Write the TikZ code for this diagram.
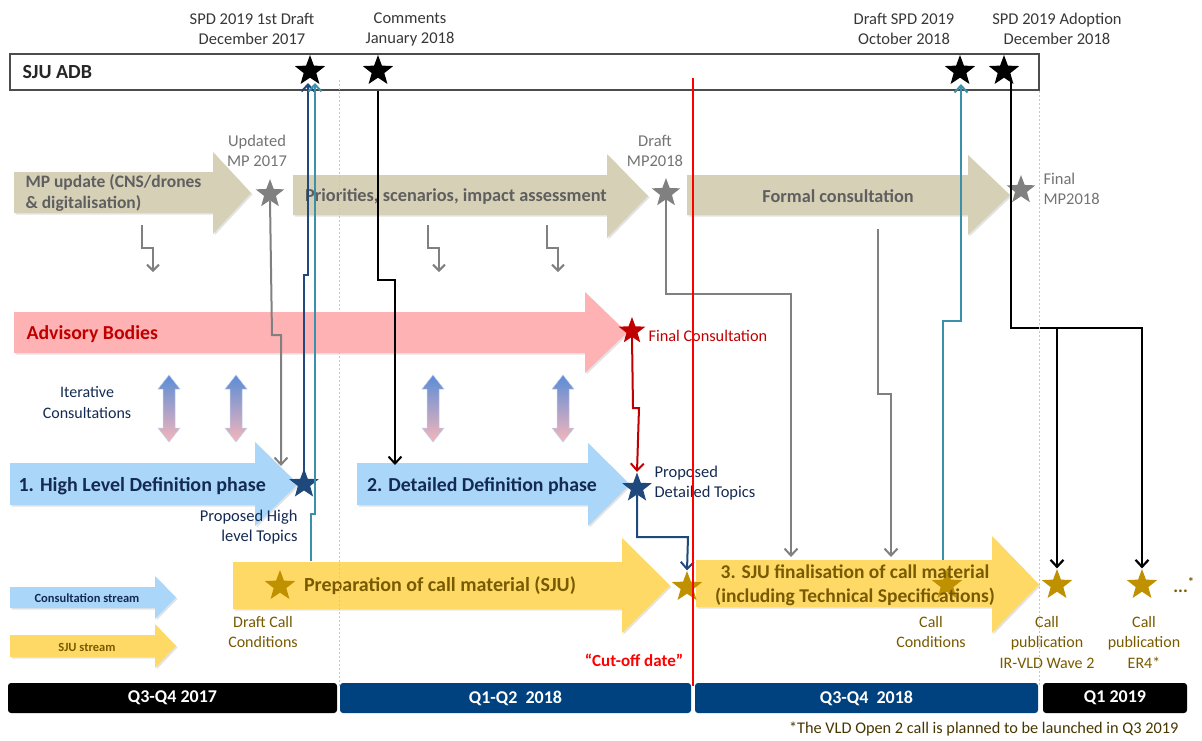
\documentclass[tikz,border=0pt]{standalone}
\usepackage{fontspec}
\setmainfont{Carlito}
\usetikzlibrary{shapes.geometric,arrows.meta,shadows}

\definecolor{beige}{RGB}{214,208,183}
\definecolor{beigetxt}{RGB}{95,95,95}
\definecolor{pinkfill}{RGB}{255,178,180}
\definecolor{darkred}{RGB}{192,0,0}
\definecolor{lblue}{RGB}{170,214,250}
\definecolor{navytxt}{RGB}{20,42,82}
\definecolor{navystar}{RGB}{31,73,125}
\definecolor{yel}{RGB}{255,217,102}
\definecolor{browntxt}{RGB}{120,90,0}
\definecolor{gold}{RGB}{191,144,0}
\definecolor{tealln}{RGB}{60,145,170}
\definecolor{barnavy}{RGB}{0,66,128}
\definecolor{midgray}{RGB}{128,128,128}
\definecolor{lbltxt}{RGB}{55,55,55}
\definecolor{dblue}{RGB}{90,140,214}
\definecolor{dpink}{RGB}{246,182,186}

\tikzset{
  arrowshadow/.style={drop shadow={shadow xshift=1.5pt,shadow yshift=-1.5pt,opacity=0.22}},
  mark star/.style={star,star points=5,star point ratio=2.4,inner sep=0pt,minimum size=#1,draw=none},
  adbstar/.style={mark star=32pt,fill=black},
  graystar/.style={mark star=30pt,fill=midgray},
  navystarst/.style={mark star=31pt,fill=navystar},
  goldstar/.style={mark star=32pt,fill=gold},
  redstar/.style={mark star=28pt,fill=darkred},
  toplbl/.style={align=center,text=lbltxt,font=\fontsize{16.5}{20}\selectfont},
  mplbl/.style={align=center,text=midgray!90!black,font=\fontsize{16.5}{19.5}\selectfont},
  calllbl/.style={align=center,text=browntxt,font=\fontsize{16}{20.5}\selectfont},
  navylbl/.style={text=navytxt,font=\fontsize{16.5}{20}\selectfont},
  bandtxt/.style={font=\bfseries\fontsize{#1}{24}\selectfont},
  qbar/.style={rounded corners=3pt,minimum height=30pt,inner sep=0pt,text=white,
    font=\bfseries\fontsize{18}{20}\selectfont},
  conn/.style={line width=2pt,-{Straight Barb[length=7pt,width=13pt]}},
  plain conn/.style={line width=2pt},
  stepdown/.style={draw=midgray,line width=2pt,-{Straight Barb[length=6pt,width=12pt]}},
  guide/.style={draw=black!22,line width=0.8pt,dash pattern=on 2pt off 2pt},
}

% block arrow: fill, left x, head base x, tip x, body top, body bottom, head top, head bottom
\newcommand{\blockarrow}[8]{%
  \path[fill=#1,arrowshadow] (#2,#5) -- (#3,#5) -- (#3,#7) -- (#4,{(#7+#8)/2})
    -- (#3,#8) -- (#3,#6) -- (#2,#6) -- cycle;}

% vertical two-headed consultation arrow centred at x = #1
\newcommand{\consultarrow}[1]{%
  \path[top color=dblue,bottom color=dpink,draw=dblue!40,line width=0.5pt]
    (#1,375) -- (#1+11,389) -- (#1+6,389) -- (#1+6,428) -- (#1+11,428) -- (#1,442)
    -- (#1-11,428) -- (#1-6,428) -- (#1-6,389) -- (#1-11,389) -- cycle;}

\begin{document}
\begin{tikzpicture}[x=1pt,y=-1pt]
\useasboundingbox (0,0) rectangle (1202,740);

% ---------- milestone captions ----------
\node[toplbl] (capA) at (252,29) {SPD 2019 1st Draft\\December 2017};
\node[toplbl] (capB) at (410,29) {Comments\\January 2018};
\node[toplbl] (capC) at (904,29) {Draft SPD 2019\\October 2018};
\node[toplbl] (capD) at (1057,29) {SPD 2019 Adoption\\December 2018};

% ---------- SJU ADB band ----------
\node[draw=black!70,line width=1.1pt,fill=white,minimum width=1029pt,minimum height=36pt,
  inner sep=0pt] (adb) at (524.5,72) {};
\node[anchor=west,bandtxt=20,text=black!85] (adbtxt) at (19,72) {SJU ADB};

% ---------- row 1: master plan ----------
\blockarrow{beige}{14}{213}{251}{172}{213}{152}{234}
\blockarrow{beige}{293}{607}{648}{175}{215}{154}{238}
\blockarrow{beige}{687}{968}{1010}{175}{215}{155}{235}
\node[anchor=west,align=left,text=beigetxt,font=\bfseries\fontsize{17.5}{21}\selectfont] (tmp)
  at (22,193) {MP update (CNS/drones\\\& digitalisation)};
\node[text=beigetxt,bandtxt=18.3] (tprio) at (456,196)
  {Priorities, scenarios, impact assessment};
\node[text=beigetxt,bandtxt=18.3] (tformal) at (838,196)
  {Formal consultation};

\node[graystar] (smp17) at (270,194) {};
\node[graystar] (smp18d) at (666,193) {};
\node[graystar] (smp18f) at (1021,190) {};
\node[mplbl] (lmp17) at (257,151) {Updated\\MP 2017};
\node[mplbl] (lmp18d) at (655,151) {Draft\\MP2018};
\node[mplbl,anchor=west,align=left] (lmp18f) at (1040,189) {Final\\MP2018};

% small step-down arrows under the master plan row
\foreach \sx in {142,428,547}{
  \draw[stepdown] (\sx,225) -- (\sx,248) -- (\sx+11,248) -- (\sx+11,272);
}

% ---------- row 2: advisory bodies ----------
\blockarrow{pinkfill}{14}{585}{627}{312}{353}{292}{373}
\node[anchor=west,text=darkred,bandtxt=19.8] (tadv) at (23,334) {Advisory Bodies};
\node[redstar] (sfinal) at (632,331) {};
\node[anchor=west,text=darkred,font=\fontsize{16.3}{19}\selectfont] (lfinal) at (645,336) {Final Consultation};

% iterative consultations
\node[navylbl,align=center,font=\fontsize{16}{21}\selectfont] (liter) at (87,403) {Iterative\\Consultations};
\foreach \cx in {169,236,433,563}{\consultarrow{\cx}}

% ---------- row 3: definition phases ----------
\blockarrow{lblue}{10}{255}{298}{463}{505}{442}{526}
\blockarrow{lblue}{357}{588}{630}{463}{505}{443}{526}
\node[anchor=west,text=navytxt,bandtxt=20] (thl) at (15,486) {1. High Level Definition phase};
\node[text=navytxt,bandtxt=19.8] (tdd) at (482,486) {2. Detailed Definition phase};
\node[navystarst] (shl) at (304,484) {};
\node[navystarst] (sdt) at (637,488) {};
\node[navylbl,anchor=east,align=right] (lhl) at (301,527) {Proposed High\\level Topics};
\node[navylbl,anchor=west,align=left] (ldt) at (651,483) {Proposed\\Detailed Topics};

% ---------- row 4: SJU call material ----------
\blockarrow{yel}{233}{622}{670}{562}{609}{538}{633}
\blockarrow{yel}{696}{992}{1039}{560}{607}{536}{633}
\node[goldstar] (sdraftcall) at (280,586) {};
\node[goldstar] (scut) at (687,587) {};
\node[goldstar] (scallcond) at (947,585) {};
\node[goldstar] (swave) at (1057,585) {};
\node[goldstar] (ser) at (1142,585) {};
\node[text=browntxt,bandtxt=20] (tprep) at (440,586) {Preparation of call material (SJU)};
\node[text=browntxt,align=center,font=\bfseries\fontsize{19.5}{24}\selectfont] (tfin) at (855,585)
  {3. SJU finalisation of call material\\(including Technical Specifications)};
\node[calllbl] (ldraftcall) at (263,632) {Draft Call\\Conditions};
\node[calllbl] (lcallcond) at (931,632) {Call\\Conditions};
\node[calllbl] (lwave) at (1047,642) {Call\\publication\\IR-VLD Wave 2};
\node[calllbl] (ler) at (1144,642) {Call\\publication\\ER4*};
\node[text=browntxt,font=\bfseries\fontsize{18}{20}\selectfont] (tmore) at (1184,585) {...\textsuperscript{*}};

% ---------- legend ----------
\blockarrow{lblue}{10}{155}{176}{587}{608}{576}{619}
\blockarrow{yel}{10}{155}{176}{635}{657}{624}{668}
\node[text=navytxt,bandtxt=12.5] (lgcons) at (87,598) {Consultation stream};
\node[text=browntxt,bandtxt=12.5] (lgsju) at (87,647) {SJU stream};

% ---------- connectors ----------
% high level topics feed the first SPD draft
\draw[conn,draw=navystar] (shl.center) -- (304,275) -- (308,275) -- (308,83);
% draft call conditions feed the first SPD draft
\coordinate (prepTop) at (311,561);
\draw[conn,draw=tealln] (prepTop) -- (311,514) -- (315,514) -- (315,83);
% updated master plan feeds the high level phase
\draw[conn,draw=midgray] (smp17.south) -- (272,335) -- (281,335) -- (281,466);
% comments feed the detailed phase
\coordinate (ddTop) at (395,465);
\draw[conn,draw=black] (adb.south -| 378,0) -- (378,280) -- (395,280) -- (ddTop);
% draft master plan feeds the finalisation
\coordinate (finTopA) at (791,557);
\draw[conn,draw=midgray] (smp18d.south) -- (666,294) -- (791,294) -- (finTopA);
% formal consultation feeds the finalisation
\coordinate (formalBot) at (878,229);
\coordinate (finTopB) at (891,557);
\draw[conn,draw=midgray] (formalBot) -- (878,394) -- (891,394) -- (finTopB);
% final consultation gives the detailed topics
\draw[conn,draw=darkred] (sfinal.south) -- (633,408) -- (639,408) -- (sdt.north);
% detailed topics go to the cut-off
\draw[conn,draw=navystar] (sdt.south) -- (637,537) -- (688,537) -- (scut.north);
% call conditions feed the draft SPD
\coordinate (finTopC) at (943,560);
\draw[conn,draw=tealln] (finTopC) -- (943,321) -- (961,321) -- (961,84);
% adoption triggers the call publications
\coordinate (adoptSplit) at (1057,328);
\draw[plain conn,line width=2.6pt,draw=black] (1011,80) -- (1011,328) -- (1142,328);
\draw[conn,line width=2.2pt,draw=black] (adoptSplit) -- (swave.north);
\draw[conn,line width=2.2pt,draw=black] (1142,327) -- (ser.north);

% ADB milestone stars (drawn over the arrow ends)
\node[adbstar] (sadb1) at (310,71) {};
\node[adbstar] (sadb2) at (378,71) {};
\node[adbstar] (sadb3) at (960,71) {};
\node[adbstar] (sadb4) at (1004,71) {};

% ---------- period guides and cut-off ----------
\draw[guide] (339,80) -- (339,686);
\draw[guide] (1039,91) -- (1039,686);
\draw[draw=red,line width=2.4pt] (693,78) -- (693,686);
\node[text=red,bandtxt=17] (lcut) at (634,660) {“Cut-off date”};

% ---------- timeline ----------
\node[qbar,fill=black,minimum width=329pt] (q1) at (172.5,698) {Q3-Q4 2017};
\node[qbar,fill=barnavy,minimum width=351pt] (q2) at (515.5,698) {Q1-Q2\ \ 2018};
\node[qbar,fill=barnavy,minimum width=343pt] (q3) at (866.5,698) {Q3-Q4\ \ 2018};
\node[qbar,fill=black,minimum width=144pt] (q4) at (1115,698) {Q1 2019};

\node[anchor=east,text=browntxt!60!black,font=\fontsize{16.3}{19}\selectfont] (foot) at (1182,729)
  {*The VLD Open 2 call is planned to be launched in Q3 2019};
\end{tikzpicture}
\end{document}
